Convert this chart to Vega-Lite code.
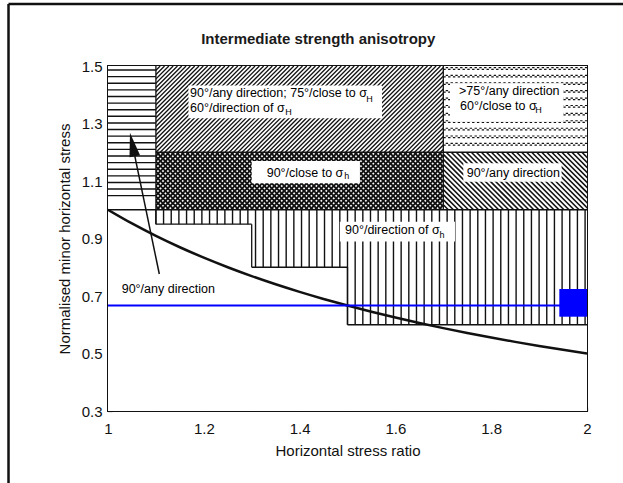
{
 "$schema": "https://vega.github.io/schema/vega-lite/v6.json",
 "width": 479, "height": 345,
 "autosize": {"type": "none"},
 "padding": {"left": 108, "top": 66, "right": 36, "bottom": 72},
 "background": "white",
 "config": {"view": {"stroke": "#111", "strokeWidth": 2}, "font": "Liberation Sans"},
 "datasets": {
  "bx": [{"x": 1.2121, "y": 1.413, "x2": 1.5879, "y2": 0.787}, {"x": 1.2121, "y": 0.787, "x2": 1.5879, "y2": 1.413}],
  "white1": [{"x": 1.1, "x2": 1.7, "y": 1.2, "y2": 1.5}, {"x": 1.7, "x2": 2.0, "y": 1.0, "y2": 1.2}, {"x": 1.0, "x2": 2.0, "y": 0.3, "y2": 1.0}],
  "white2": [{"x": 1.0, "x2": 1.1, "y": 1.0, "y2": 1.5}, {"x": 1.7, "x2": 2.0, "y": 1.2, "y2": 1.5}],
  "hatchA": [{"x":0.929,"x2":1.109,"y":1.2,"y2":1.5},{"x":0.938,"x2":1.118,"y":1.2,"y2":1.5},{"x":0.947,"x2":1.127,"y":1.2,"y2":1.5},{"x":0.956,"x2":1.136,"y":1.2,"y2":1.5},{"x":0.965,"x2":1.145,"y":1.2,"y2":1.5},{"x":0.974,"x2":1.154,"y":1.2,"y2":1.5},{"x":0.983,"x2":1.163,"y":1.2,"y2":1.5},{"x":0.992,"x2":1.172,"y":1.2,"y2":1.5},{"x":1.001,"x2":1.181,"y":1.2,"y2":1.5},{"x":1.01,"x2":1.19,"y":1.2,"y2":1.5},{"x":1.019,"x2":1.199,"y":1.2,"y2":1.5},{"x":1.028,"x2":1.208,"y":1.2,"y2":1.5},{"x":1.037,"x2":1.217,"y":1.2,"y2":1.5},{"x":1.046,"x2":1.226,"y":1.2,"y2":1.5},{"x":1.055,"x2":1.235,"y":1.2,"y2":1.5},{"x":1.064,"x2":1.244,"y":1.2,"y2":1.5},{"x":1.073,"x2":1.253,"y":1.2,"y2":1.5},{"x":1.082,"x2":1.262,"y":1.2,"y2":1.5},{"x":1.091,"x2":1.271,"y":1.2,"y2":1.5},{"x":1.1,"x2":1.28,"y":1.2,"y2":1.5},{"x":1.109,"x2":1.289,"y":1.2,"y2":1.5},{"x":1.118,"x2":1.298,"y":1.2,"y2":1.5},{"x":1.127,"x2":1.307,"y":1.2,"y2":1.5},{"x":1.136,"x2":1.316,"y":1.2,"y2":1.5},{"x":1.145,"x2":1.325,"y":1.2,"y2":1.5},{"x":1.154,"x2":1.334,"y":1.2,"y2":1.5},{"x":1.163,"x2":1.343,"y":1.2,"y2":1.5},{"x":1.172,"x2":1.352,"y":1.2,"y2":1.5},{"x":1.181,"x2":1.361,"y":1.2,"y2":1.5},{"x":1.19,"x2":1.37,"y":1.2,"y2":1.5},{"x":1.199,"x2":1.379,"y":1.2,"y2":1.5},{"x":1.208,"x2":1.388,"y":1.2,"y2":1.5},{"x":1.217,"x2":1.397,"y":1.2,"y2":1.5},{"x":1.226,"x2":1.406,"y":1.2,"y2":1.5},{"x":1.235,"x2":1.415,"y":1.2,"y2":1.5},{"x":1.244,"x2":1.424,"y":1.2,"y2":1.5},{"x":1.253,"x2":1.433,"y":1.2,"y2":1.5},{"x":1.262,"x2":1.442,"y":1.2,"y2":1.5},{"x":1.271,"x2":1.451,"y":1.2,"y2":1.5},{"x":1.28,"x2":1.46,"y":1.2,"y2":1.5},{"x":1.289,"x2":1.469,"y":1.2,"y2":1.5},{"x":1.298,"x2":1.478,"y":1.2,"y2":1.5},{"x":1.307,"x2":1.487,"y":1.2,"y2":1.5},{"x":1.316,"x2":1.496,"y":1.2,"y2":1.5},{"x":1.325,"x2":1.505,"y":1.2,"y2":1.5},{"x":1.334,"x2":1.514,"y":1.2,"y2":1.5},{"x":1.343,"x2":1.523,"y":1.2,"y2":1.5},{"x":1.352,"x2":1.532,"y":1.2,"y2":1.5},{"x":1.361,"x2":1.541,"y":1.2,"y2":1.5},{"x":1.37,"x2":1.55,"y":1.2,"y2":1.5},{"x":1.379,"x2":1.559,"y":1.2,"y2":1.5},{"x":1.388,"x2":1.568,"y":1.2,"y2":1.5},{"x":1.397,"x2":1.577,"y":1.2,"y2":1.5},{"x":1.406,"x2":1.586,"y":1.2,"y2":1.5},{"x":1.415,"x2":1.595,"y":1.2,"y2":1.5},{"x":1.424,"x2":1.604,"y":1.2,"y2":1.5},{"x":1.433,"x2":1.613,"y":1.2,"y2":1.5},{"x":1.442,"x2":1.622,"y":1.2,"y2":1.5},{"x":1.451,"x2":1.631,"y":1.2,"y2":1.5},{"x":1.46,"x2":1.64,"y":1.2,"y2":1.5},{"x":1.469,"x2":1.649,"y":1.2,"y2":1.5},{"x":1.478,"x2":1.658,"y":1.2,"y2":1.5},{"x":1.487,"x2":1.667,"y":1.2,"y2":1.5},{"x":1.496,"x2":1.676,"y":1.2,"y2":1.5},{"x":1.505,"x2":1.685,"y":1.2,"y2":1.5},{"x":1.514,"x2":1.694,"y":1.2,"y2":1.5},{"x":1.523,"x2":1.703,"y":1.2,"y2":1.5},{"x":1.532,"x2":1.712,"y":1.2,"y2":1.5},{"x":1.541,"x2":1.721,"y":1.2,"y2":1.5},{"x":1.55,"x2":1.73,"y":1.2,"y2":1.5},{"x":1.559,"x2":1.739,"y":1.2,"y2":1.5},{"x":1.568,"x2":1.748,"y":1.2,"y2":1.5},{"x":1.577,"x2":1.757,"y":1.2,"y2":1.5},{"x":1.586,"x2":1.766,"y":1.2,"y2":1.5},{"x":1.595,"x2":1.775,"y":1.2,"y2":1.5},{"x":1.604,"x2":1.784,"y":1.2,"y2":1.5},{"x":1.613,"x2":1.793,"y":1.2,"y2":1.5},{"x":1.622,"x2":1.802,"y":1.2,"y2":1.5},{"x":1.631,"x2":1.811,"y":1.2,"y2":1.5},{"x":1.64,"x2":1.82,"y":1.2,"y2":1.5},{"x":1.649,"x2":1.829,"y":1.2,"y2":1.5},{"x":1.658,"x2":1.838,"y":1.2,"y2":1.5},{"x":1.667,"x2":1.847,"y":1.2,"y2":1.5},{"x":1.676,"x2":1.856,"y":1.2,"y2":1.5},{"x":1.685,"x2":1.865,"y":1.2,"y2":1.5},{"x":1.694,"x2":1.874,"y":1.2,"y2":1.5}],
  "hatchC": [{"x":1.7,"y":1.0175,"x2":1.7105,"y2":1},{"x":1.7,"y":1.035,"x2":1.721,"y2":1},{"x":1.7,"y":1.0525,"x2":1.7315,"y2":1},{"x":1.7,"y":1.07,"x2":1.742,"y2":1},{"x":1.7,"y":1.0875,"x2":1.7525,"y2":1},{"x":1.7,"y":1.105,"x2":1.763,"y2":1},{"x":1.7,"y":1.1225,"x2":1.7735,"y2":1},{"x":1.7,"y":1.14,"x2":1.784,"y2":1},{"x":1.7,"y":1.1575,"x2":1.7945,"y2":1},{"x":1.7,"y":1.175,"x2":1.805,"y2":1},{"x":1.7,"y":1.1925,"x2":1.8155,"y2":1},{"x":1.706,"y":1.2,"x2":1.826,"y2":1},{"x":1.7165,"y":1.2,"x2":1.8365,"y2":1},{"x":1.727,"y":1.2,"x2":1.847,"y2":1},{"x":1.7375,"y":1.2,"x2":1.8575,"y2":1},{"x":1.748,"y":1.2,"x2":1.868,"y2":1},{"x":1.7585,"y":1.2,"x2":1.8785,"y2":1},{"x":1.769,"y":1.2,"x2":1.889,"y2":1},{"x":1.7795,"y":1.2,"x2":1.8995,"y2":1},{"x":1.79,"y":1.2,"x2":1.91,"y2":1},{"x":1.8005,"y":1.2,"x2":1.9205,"y2":1},{"x":1.811,"y":1.2,"x2":1.931,"y2":1},{"x":1.8215,"y":1.2,"x2":1.9415,"y2":1},{"x":1.832,"y":1.2,"x2":1.952,"y2":1},{"x":1.8425,"y":1.2,"x2":1.9625,"y2":1},{"x":1.853,"y":1.2,"x2":1.973,"y2":1},{"x":1.8635,"y":1.2,"x2":1.9835,"y2":1},{"x":1.874,"y":1.2,"x2":1.994,"y2":1},{"x":1.8845,"y":1.2,"x2":2.0045,"y2":1},{"x":1.895,"y":1.2,"x2":2.015,"y2":1},{"x":1.9055,"y":1.2,"x2":2.0255,"y2":1},{"x":1.916,"y":1.2,"x2":2.036,"y2":1},{"x":1.9265,"y":1.2,"x2":2.0465,"y2":1},{"x":1.937,"y":1.2,"x2":2.057,"y2":1},{"x":1.9475,"y":1.2,"x2":2.0675,"y2":1},{"x":1.958,"y":1.2,"x2":2.078,"y2":1},{"x":1.9685,"y":1.2,"x2":2.0885,"y2":1},{"x":1.979,"y":1.2,"x2":2.099,"y2":1},{"x":1.9895,"y":1.2,"x2":2.1095,"y2":1}],
  "hatchH": [{"x":1,"x2":1.1,"y":1.486},{"x":1,"x2":1.1,"y":1.463},{"x":1,"x2":1.1,"y":1.44},{"x":1,"x2":1.1,"y":1.417},{"x":1,"x2":1.1,"y":1.394},{"x":1,"x2":1.1,"y":1.371},{"x":1,"x2":1.1,"y":1.348},{"x":1,"x2":1.1,"y":1.325},{"x":1,"x2":1.1,"y":1.302},{"x":1,"x2":1.1,"y":1.279},{"x":1,"x2":1.1,"y":1.256},{"x":1,"x2":1.1,"y":1.233},{"x":1,"x2":1.1,"y":1.21},{"x":1,"x2":1.1,"y":1.187},{"x":1,"x2":1.1,"y":1.164},{"x":1,"x2":1.1,"y":1.141},{"x":1,"x2":1.1,"y":1.118},{"x":1,"x2":1.1,"y":1.095},{"x":1,"x2":1.1,"y":1.072},{"x":1,"x2":1.1,"y":1.049}],
  "hatchW": [{"x":1.7,"x2":2,"y":1.4885},{"x":1.7,"x2":2,"y":1.462},{"x":1.7,"x2":2,"y":1.436},{"x":1.7,"x2":2,"y":1.409},{"x":1.7,"x2":2,"y":1.383},{"x":1.7,"x2":2,"y":1.357},{"x":1.7,"x2":2,"y":1.33},{"x":1.7,"x2":2,"y":1.304},{"x":1.7,"x2":2,"y":1.278},{"x":1.7,"x2":2,"y":1.251},{"x":1.7,"x2":2,"y":1.225}],
  "hatchV": [{"x":1.1,"y":0.95},{"x":1.116,"y":0.95},{"x":1.132,"y":0.95},{"x":1.148,"y":0.95},{"x":1.164,"y":0.95},{"x":1.18,"y":0.95},{"x":1.196,"y":0.95},{"x":1.212,"y":0.95},{"x":1.228,"y":0.95},{"x":1.244,"y":0.95},{"x":1.26,"y":0.95},{"x":1.276,"y":0.95},{"x":1.292,"y":0.95},{"x":1.308,"y":0.8},{"x":1.324,"y":0.8},{"x":1.34,"y":0.8},{"x":1.356,"y":0.8},{"x":1.372,"y":0.8},{"x":1.388,"y":0.8},{"x":1.404,"y":0.8},{"x":1.42,"y":0.8},{"x":1.436,"y":0.8},{"x":1.452,"y":0.8},{"x":1.468,"y":0.8},{"x":1.484,"y":0.8},{"x":1.5,"y":0.6},{"x":1.516,"y":0.6},{"x":1.532,"y":0.6},{"x":1.548,"y":0.6},{"x":1.564,"y":0.6},{"x":1.58,"y":0.6},{"x":1.596,"y":0.6},{"x":1.612,"y":0.6},{"x":1.628,"y":0.6},{"x":1.644,"y":0.6},{"x":1.66,"y":0.6},{"x":1.676,"y":0.6},{"x":1.692,"y":0.6},{"x":1.708,"y":0.6},{"x":1.724,"y":0.6},{"x":1.74,"y":0.6},{"x":1.756,"y":0.6},{"x":1.772,"y":0.6},{"x":1.788,"y":0.6},{"x":1.804,"y":0.6},{"x":1.82,"y":0.6},{"x":1.836,"y":0.6},{"x":1.852,"y":0.6},{"x":1.868,"y":0.6},{"x":1.884,"y":0.6},{"x":1.9,"y":0.6},{"x":1.916,"y":0.6},{"x":1.932,"y":0.6},{"x":1.948,"y":0.6},{"x":1.964,"y":0.6},{"x":1.98,"y":0.6},{"x":1.996,"y":0.6}],
  "borders": [{"x":1.1,"y":1.2,"x2":2.0,"y2":1.2},{"x":1.0,"y":1.0,"x2":2.0,"y2":1.0},{"x":1.1,"y":0.95,"x2":1.1,"y2":1.5},{"x":1.7,"y":1.0,"x2":1.7,"y2":1.5},{"x":1.1,"y":0.95,"x2":1.3,"y2":0.95},{"x":1.3,"y":0.95,"x2":1.3,"y2":0.8},{"x":1.3,"y":0.8,"x2":1.5,"y2":0.8},{"x":1.5,"y":0.8,"x2":1.5,"y2":0.6},{"x":1.5,"y":0.6,"x2":2.0,"y2":0.6}],
  "boxes": [{"x":1.168,"x2":1.572,"y":1.318,"y2":1.432},{"x":1.714,"x2":1.9505,"y":1.3063,"y2":1.4398},{"x":1.3,"x2":1.526,"y":1.092,"y2":1.17},{"x":1.7418,"x2":1.947,"y":1.0976,"y2":1.1616},{"x":1.484,"x2":1.7244,"y":0.8896,"y2":0.958}],
  "texts": [{"x":1.1712,"y":1.407,"t":"90°/any direction; 75°/close to σ"},{"x":1.1712,"y":1.354,"t":"60°/direction of σ"},{"x":1.7328,"y":1.413,"t":">75°/any direction"},{"x":1.735,"y":1.361,"t":"60°/close to σ"},{"x":1.3313,"y":1.129,"t":"90°/close to σ"},{"x":1.7488,"y":1.129,"t":"90°/any direction"},{"x":1.4948,"y":0.9294,"t":"90°/direction of σ"},{"x":1.0286,"y":0.7233,"t":"90°/any direction"}],
  "subs": [{"x":1.539,"y":1.385,"t":"H"},{"x":1.37,"y":1.34,"t":"H"},{"x":1.892,"y":1.347,"t":"H"},{"x":1.493,"y":1.1174,"t":"h"},{"x":1.692,"y":0.9122,"t":"h"}],
  "heading": [{"x":1.439,"y":1.5953,"t":"Intermediate strength anisotropy"}],
  "curve": [{"x":1,"y":1},{"x":1.05,"y":0.9524},{"x":1.1,"y":0.9091},{"x":1.15,"y":0.8696},{"x":1.2,"y":0.8333},{"x":1.25,"y":0.8},{"x":1.3,"y":0.7692},{"x":1.35,"y":0.7407},{"x":1.4,"y":0.7143},{"x":1.45,"y":0.6897},{"x":1.5,"y":0.6667},{"x":1.55,"y":0.6452},{"x":1.6,"y":0.625},{"x":1.65,"y":0.6061},{"x":1.7,"y":0.5882},{"x":1.75,"y":0.5714},{"x":1.8,"y":0.5556},{"x":1.85,"y":0.5405},{"x":1.9,"y":0.5263},{"x":1.95,"y":0.5128},{"x":2,"y":0.5}],
  "blueline": [{"x":1.0,"x2":1.944,"y":0.667}],
  "bluerect": [{"x":1.9422,"x2":2.0,"y":0.628,"y2":0.7243}],
  "arrowline": [{"x":1.1071,"y":0.7765,"x2":1.056,"y2":1.1863}],
  "arrowhead": [{"x":1.0509,"y":1.227}],
  "frame": [{"x":0.7923,"y":1.7157,"x2":2.1,"y2":1.7157},{"x":0.7923,"y":1.7157,"x2":0.7923,"y2":0.0}]
 },
 "encoding": {
  "x": {"field": "x", "type": "quantitative", "scale": {"domain": [1, 2], "nice": false, "zero": false},
   "axis": {"values": [1,1.1,1.2,1.3,1.4,1.5,1.6,1.7,1.8,1.9,2], "format": ".1~f", "labelExpr": "round(datum.value*10)%2==0 ? datum.label : ''", "domain": false, "grid": false, "tickSize": -4, "tickColor": "#111", "tickWidth": 1.2, "labelFont": "Liberation Sans", "labelFontSize": 15, "labelColor": "#111", "labelPadding": 14, "labelFlush": false, "labelOverlap": false, "title": "Horizontal stress ratio", "titleFont": "Liberation Sans", "titleFontSize": 15, "titleFontWeight": "normal", "titleColor": "#111", "titleX": 239.5, "titleY": 39, "titleBaseline": "middle", "titleAlign": "center"}},
  "y": {"field": "y", "type": "quantitative", "scale": {"domain": [0.3, 1.5], "nice": false, "zero": false},
   "axis": {"values": [0.3,0.4,0.5,0.6,0.7,0.8,0.9,1.0,1.1,1.2,1.3,1.4,1.5], "format": ".1f", "labelExpr": "round(datum.value*10)%2==1 ? datum.label : ''", "domain": false, "grid": false, "tickSize": -4, "tickColor": "#111", "tickWidth": 1.2, "labelFont": "Liberation Sans", "labelFontSize": 15, "labelColor": "#111", "labelPadding": 10, "labelFlush": false, "labelOverlap": false, "title": "Normalised minor horizontal stress", "titleFont": "Liberation Sans", "titleFontSize": 15, "titleFontWeight": "normal", "titleColor": "#111", "titleX": -44, "titleY": 172.5, "titleAngle": -90, "titleBaseline": "middle", "titleAlign": "center"}}
 },
 "layer": [
  {"data": {"name": "bx"}, "mark": {"type": "rule", "clip": true, "strokeWidth": 260, "strokeDash": [1.8, 1.7], "color": "#111"}, "encoding": {"x2": {"field": "x2"}, "y2": {"field": "y2"}}},
  {"data": {"name": "white1"}, "mark": {"type": "rect", "clip": true, "color": "white", "strokeWidth": 0}, "encoding": {"x2": {"field": "x2"}, "y2": {"field": "y2"}}},
  {"data": {"name": "hatchA"}, "mark": {"type": "rule", "clip": true, "strokeWidth": 1.3, "color": "#111"}, "encoding": {"x2": {"field": "x2"}, "y2": {"field": "y2"}}},
  {"data": {"name": "hatchC"}, "mark": {"type": "rule", "clip": true, "strokeWidth": 1.6, "color": "#111"}, "encoding": {"x2": {"field": "x2"}, "y2": {"field": "y2"}}},
  {"data": {"name": "white2"}, "mark": {"type": "rect", "clip": true, "color": "white", "strokeWidth": 0}, "encoding": {"x2": {"field": "x2"}, "y2": {"field": "y2"}}},
  {"data": {"name": "hatchH"}, "mark": {"type": "rule", "clip": true, "strokeWidth": 1.4, "color": "#111"}, "encoding": {"x2": {"field": "x2"}}},
  {"data": {"name": "hatchW"}, "mark": {"type": "rule", "clip": true, "strokeWidth": 1.2, "strokeDash": [2.4, 2.4], "color": "#111"}, "encoding": {"x2": {"field": "x2"}}},
  {"data": {"name": "hatchW"}, "mark": {"type": "rule", "clip": true, "strokeWidth": 1.2, "strokeDash": [2.4, 2.4], "strokeDashOffset": 2.4, "yOffset": -1.6, "color": "#111"}, "encoding": {"x2": {"field": "x2"}}},
  {"data": {"name": "hatchV"}, "mark": {"type": "rule", "clip": true, "strokeWidth": 1.4, "color": "#111"}, "encoding": {"y2": {"datum": 1.0}}},
  {"data": {"name": "borders"}, "mark": {"type": "rule", "clip": true, "strokeWidth": 1.3, "color": "#111"}, "encoding": {"x2": {"field": "x2"}, "y2": {"field": "y2"}}},
  {"data": {"name": "boxes"}, "mark": {"type": "rect", "clip": true, "color": "white", "strokeWidth": 0}, "encoding": {"x2": {"field": "x2"}, "y2": {"field": "y2"}}},
  {"data": {"name": "texts"}, "mark": {"type": "text", "align": "left", "baseline": "middle", "font": "Liberation Sans", "fontSize": 12.5, "color": "#000"}, "encoding": {"text": {"field": "t"}}},
  {"data": {"name": "subs"}, "mark": {"type": "text", "align": "left", "baseline": "middle", "font": "Liberation Sans", "fontSize": 9, "color": "#000"}, "encoding": {"text": {"field": "t"}}},
  {"data": {"name": "heading"}, "mark": {"type": "text", "clip": false, "align": "center", "baseline": "middle", "font": "Liberation Sans", "fontSize": 15, "fontWeight": "bold", "color": "#1a1a1a"}, "encoding": {"text": {"field": "t"}}},
  {"data": {"name": "curve"}, "mark": {"type": "line", "clip": true, "strokeWidth": 2.5, "color": "#111", "interpolate": "monotone"}},
  {"data": {"name": "blueline"}, "mark": {"type": "rule", "strokeWidth": 2, "color": "#0000ff"}, "encoding": {"x2": {"field": "x2"}}},
  {"data": {"name": "bluerect"}, "mark": {"type": "rect", "color": "#0000ff"}, "encoding": {"x2": {"field": "x2"}, "y2": {"field": "y2"}}},
  {"data": {"name": "arrowline"}, "mark": {"type": "rule", "strokeWidth": 1.5, "color": "#111"}, "encoding": {"x2": {"field": "x2"}, "y2": {"field": "y2"}}},
  {"data": {"name": "arrowhead"}, "mark": {"type": "point", "shape": "M0,-1L0.45,1L-0.45,1Z", "filled": true, "size": 576, "angle": -11.6, "color": "#111", "opacity": 1}},
  {"data": {"name": "frame"}, "mark": {"type": "rule", "clip": false, "strokeWidth": 2.5, "color": "#111"}, "encoding": {"x2": {"field": "x2"}, "y2": {"field": "y2"}}}
 ]
}
